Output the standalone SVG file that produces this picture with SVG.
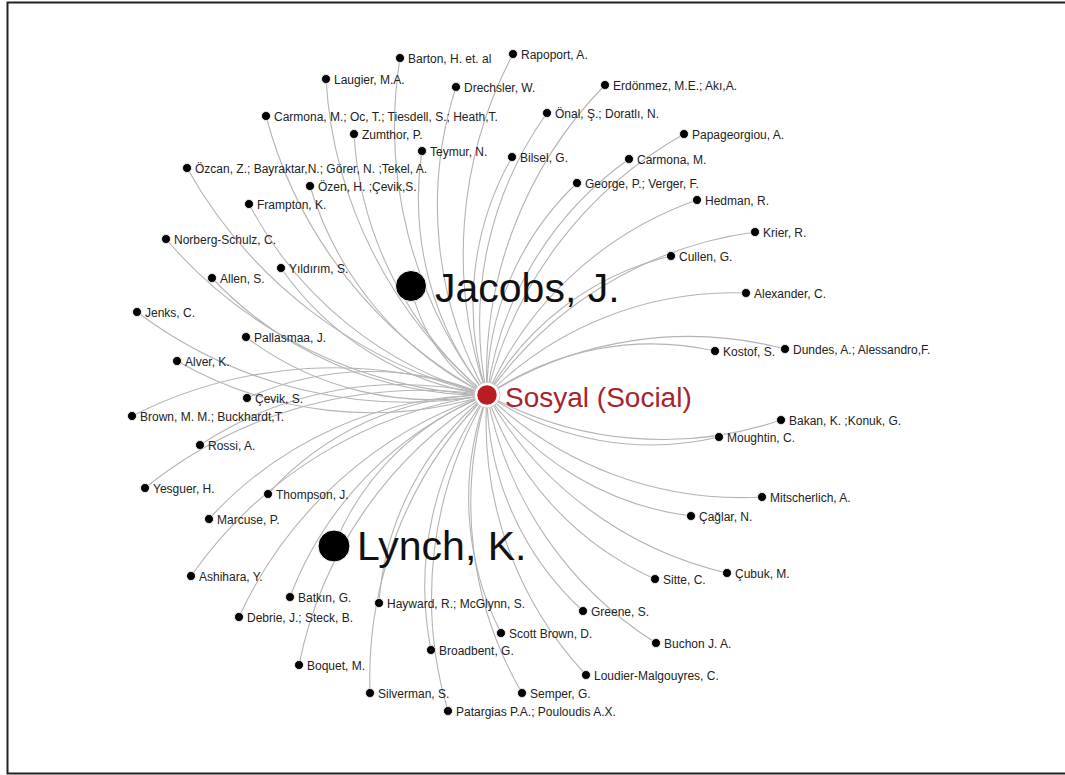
<svg xmlns="http://www.w3.org/2000/svg" width="1065" height="775" viewBox="0 0 1065 775">
<style>
.e{fill:none;stroke:#b4b4b4;stroke-width:1.1}
.n{fill:#000;stroke:#fff;stroke-width:0.8}
.l{font-family:"Liberation Sans",Arial,sans-serif;font-size:12px;fill:#222}
.big{font-family:"Liberation Sans",Arial,sans-serif;font-size:41px;fill:#111}
.hub{font-family:"Liberation Sans",Arial,sans-serif;font-size:28px;fill:#a8232b}
</style>
<rect width="1065" height="775" fill="#fff"/>
<path d="M1065,2.5 H7.5 V773.5 H1065" fill="none" stroke="#222" stroke-width="2"/>
<g id="edges">
<path class="e" d="M487,395 A435,435 0 0,1 400,58"/>
<path class="e" d="M487,395 A428,428 0 0,1 513,54"/>
<path class="e" d="M487,395 A443,443 0 0,1 326,79"/>
<path class="e" d="M487,395 A387,387 0 0,1 456,87"/>
<path class="e" d="M487,395 A415,415 0 0,1 605,85"/>
<path class="e" d="M487,395 A445,445 0 0,1 266,116"/>
<path class="e" d="M487,395 A360,360 0 0,1 547,113"/>
<path class="e" d="M487,395 A366,366 0 0,1 354,134"/>
<path class="e" d="M487,395 A409,409 0 0,1 684,134"/>
<path class="e" d="M487,395 A316,316 0 0,1 422,151"/>
<path class="e" d="M487,395 A299,299 0 0,1 512,157"/>
<path class="e" d="M487,395 A344,344 0 0,1 629,159"/>
<path class="e" d="M487,395 A470,470 0 0,1 187,168"/>
<path class="e" d="M487,395 A342,342 0 0,1 310,186"/>
<path class="e" d="M487,395 A288,288 0 0,1 577,183"/>
<path class="e" d="M487,395 A358,358 0 0,1 697,200"/>
<path class="e" d="M487,395 A381,381 0 0,1 249,204"/>
<path class="e" d="M487,395 A392,392 0 0,1 755,232"/>
<path class="e" d="M487,395 A446,446 0 0,1 166,239"/>
<path class="e" d="M487,395 A288,288 0 0,1 671,256"/>
<path class="e" d="M487,395 A302,302 0 0,1 281,268"/>
<path class="e" d="M487,395 A374,374 0 0,1 212,278"/>
<path class="e" d="M487,395 A348,348 0 0,1 746,293"/>
<path class="e" d="M487,395 A450,450 0 0,1 137,312"/>
<path class="e" d="M487,395 A310,310 0 0,1 246,337"/>
<path class="e" d="M487,395 A390,390 0 0,1 177,361"/>
<path class="e" d="M487,395 A290,290 0 0,1 715,351"/>
<path class="e" d="M487,395 A377,377 0 0,1 785,349"/>
<path class="e" d="M487,395 A300,300 0 0,0 247,398"/>
<path class="e" d="M487,395 A445,445 0 0,0 132,416"/>
<path class="e" d="M487,395 A369,369 0 0,0 781,420"/>
<path class="e" d="M487,395 A295,295 0 0,0 719,437"/>
<path class="e" d="M487,395 A364,364 0 0,0 200,445"/>
<path class="e" d="M487,395 A443,443 0 0,0 145,488"/>
<path class="e" d="M487,395 A300,300 0 0,0 268,494"/>
<path class="e" d="M487,395 A367,367 0 0,0 762,497"/>
<path class="e" d="M487,395 A297,297 0 0,0 691,516"/>
<path class="e" d="M487,395 A380,380 0 0,0 209,519"/>
<path class="e" d="M487,395 A434,434 0 0,0 191,576"/>
<path class="e" d="M487,395 A311,311 0 0,0 655,579"/>
<path class="e" d="M487,395 A374,374 0 0,0 727,573"/>
<path class="e" d="M487,395 A353,353 0 0,0 290,597"/>
<path class="e" d="M487,395 A293,293 0 0,0 379,603"/>
<path class="e" d="M487,395 A416,416 0 0,0 239,617"/>
<path class="e" d="M487,395 A295,295 0 0,0 583,611"/>
<path class="e" d="M487,395 A298,298 0 0,0 501,633"/>
<path class="e" d="M487,395 A375,375 0 0,0 656,643"/>
<path class="e" d="M487,395 A326,326 0 0,0 431,650"/>
<path class="e" d="M487,395 A411,411 0 0,0 299,665"/>
<path class="e" d="M487,395 A371,371 0 0,0 586,675"/>
<path class="e" d="M487,395 A400,400 0 0,0 370,693"/>
<path class="e" d="M487,395 A375,375 0 0,0 522,693"/>
<path class="e" d="M487,395 A398,398 0 0,0 448,711"/>
<path class="e" d="M487,395 A166,166 0 0,1 411,286"/>
<path class="e" d="M487,395 A269,269 0 0,0 334,546"/>
</g>
<g id="n-barton"><circle class="n" cx="400" cy="58" r="4.5"/><text class="l" x="408" y="63">Barton, H. et. al</text></g>
<g id="n-rapoport"><circle class="n" cx="513" cy="54" r="4.5"/><text class="l" x="521" y="59">Rapoport, A.</text></g>
<g id="n-laugier"><circle class="n" cx="326" cy="79" r="4.5"/><text class="l" x="334" y="84">Laugier, M.A.</text></g>
<g id="n-drechsler"><circle class="n" cx="456" cy="87" r="4.5"/><text class="l" x="464" y="92">Drechsler, W.</text></g>
<g id="n-erdonmez"><circle class="n" cx="605" cy="85" r="4.5"/><text class="l" x="613" y="90">Erdönmez, M.E.; Akı,A.</text></g>
<g id="n-carmona-oc"><circle class="n" cx="266" cy="116" r="4.5"/><text class="l" x="274" y="121">Carmona, M.; Oc, T.; Tiesdell, S.; Heath,T.</text></g>
<g id="n-onal"><circle class="n" cx="547" cy="113" r="4.5"/><text class="l" x="555" y="118">Önal, Ş.; Doratlı, N.</text></g>
<g id="n-zumthor"><circle class="n" cx="354" cy="134" r="4.5"/><text class="l" x="362" y="139">Zumthor, P.</text></g>
<g id="n-papageorgiou"><circle class="n" cx="684" cy="134" r="4.5"/><text class="l" x="692" y="139">Papageorgiou, A.</text></g>
<g id="n-teymur"><circle class="n" cx="422" cy="151" r="4.5"/><text class="l" x="430" y="156">Teymur, N.</text></g>
<g id="n-bilsel"><circle class="n" cx="512" cy="157" r="4.5"/><text class="l" x="520" y="162">Bilsel, G.</text></g>
<g id="n-carmona"><circle class="n" cx="629" cy="159" r="4.5"/><text class="l" x="637" y="164">Carmona, M.</text></g>
<g id="n-ozcan"><circle class="n" cx="187" cy="168" r="4.5"/><text class="l" x="195" y="173">Özcan, Z.; Bayraktar,N.; Görer, N. ;Tekel, A.</text></g>
<g id="n-ozen"><circle class="n" cx="310" cy="186" r="4.5"/><text class="l" x="318" y="191">Özen, H. ;Çevik,S.</text></g>
<g id="n-george"><circle class="n" cx="577" cy="183" r="4.5"/><text class="l" x="585" y="188">George, P.; Verger, F.</text></g>
<g id="n-hedman"><circle class="n" cx="697" cy="200" r="4.5"/><text class="l" x="705" y="205">Hedman, R.</text></g>
<g id="n-frampton"><circle class="n" cx="249" cy="204" r="4.5"/><text class="l" x="257" y="209">Frampton, K.</text></g>
<g id="n-krier"><circle class="n" cx="755" cy="232" r="4.5"/><text class="l" x="763" y="237">Krier, R.</text></g>
<g id="n-norberg"><circle class="n" cx="166" cy="239" r="4.5"/><text class="l" x="174" y="244">Norberg-Schulz, C.</text></g>
<g id="n-cullen"><circle class="n" cx="671" cy="256" r="4.5"/><text class="l" x="679" y="261">Cullen, G.</text></g>
<g id="n-yildirim"><circle class="n" cx="281" cy="268" r="4.5"/><text class="l" x="289" y="273">Yıldırım, S.</text></g>
<g id="n-allen"><circle class="n" cx="212" cy="278" r="4.5"/><text class="l" x="220" y="283">Allen, S.</text></g>
<g id="n-alexander"><circle class="n" cx="746" cy="293" r="4.5"/><text class="l" x="754" y="298">Alexander, C.</text></g>
<g id="n-jenks"><circle class="n" cx="137" cy="312" r="4.5"/><text class="l" x="145" y="317">Jenks, C.</text></g>
<g id="n-pallasmaa"><circle class="n" cx="246" cy="337" r="4.5"/><text class="l" x="254" y="342">Pallasmaa, J.</text></g>
<g id="n-alver"><circle class="n" cx="177" cy="361" r="4.5"/><text class="l" x="185" y="366">Alver, K.</text></g>
<g id="n-kostof"><circle class="n" cx="715" cy="351" r="4.5"/><text class="l" x="723" y="356">Kostof, S.</text></g>
<g id="n-dundes"><circle class="n" cx="785" cy="349" r="4.5"/><text class="l" x="793" y="354">Dundes, A.; Alessandro,F.</text></g>
<g id="n-cevik"><circle class="n" cx="247" cy="398" r="4.5"/><text class="l" x="255" y="403">Çevik, S.</text></g>
<g id="n-brown"><circle class="n" cx="132" cy="416" r="4.5"/><text class="l" x="140" y="421">Brown, M. M.; Buckhardt,T.</text></g>
<g id="n-bakan"><circle class="n" cx="781" cy="420" r="4.5"/><text class="l" x="789" y="425">Bakan, K. ;Konuk, G.</text></g>
<g id="n-moughtin"><circle class="n" cx="719" cy="437" r="4.5"/><text class="l" x="727" y="442">Moughtin, C.</text></g>
<g id="n-rossi"><circle class="n" cx="200" cy="445" r="4.5"/><text class="l" x="208" y="450">Rossi, A.</text></g>
<g id="n-yesguer"><circle class="n" cx="145" cy="488" r="4.5"/><text class="l" x="153" y="493">Yesguer, H.</text></g>
<g id="n-thompson"><circle class="n" cx="268" cy="494" r="4.5"/><text class="l" x="276" y="499">Thompson, J.</text></g>
<g id="n-mitscherlich"><circle class="n" cx="762" cy="497" r="4.5"/><text class="l" x="770" y="502">Mitscherlich, A.</text></g>
<g id="n-caglar"><circle class="n" cx="691" cy="516" r="4.5"/><text class="l" x="699" y="521">Çağlar, N.</text></g>
<g id="n-marcuse"><circle class="n" cx="209" cy="519" r="4.5"/><text class="l" x="217" y="524">Marcuse, P.</text></g>
<g id="n-ashihara"><circle class="n" cx="191" cy="576" r="4.5"/><text class="l" x="199" y="581">Ashihara, Y.</text></g>
<g id="n-sitte"><circle class="n" cx="655" cy="579" r="4.5"/><text class="l" x="663" y="584">Sitte, C.</text></g>
<g id="n-cubuk"><circle class="n" cx="727" cy="573" r="4.5"/><text class="l" x="735" y="578">Çubuk, M.</text></g>
<g id="n-batkin"><circle class="n" cx="290" cy="597" r="4.5"/><text class="l" x="298" y="602">Batkın, G.</text></g>
<g id="n-hayward"><circle class="n" cx="379" cy="603" r="4.5"/><text class="l" x="387" y="608">Hayward, R.; McGlynn, S.</text></g>
<g id="n-debrie"><circle class="n" cx="239" cy="617" r="4.5"/><text class="l" x="247" y="622">Debrie, J.; Steck, B.</text></g>
<g id="n-greene"><circle class="n" cx="583" cy="611" r="4.5"/><text class="l" x="591" y="616">Greene, S.</text></g>
<g id="n-scottbrown"><circle class="n" cx="501" cy="633" r="4.5"/><text class="l" x="509" y="638">Scott Brown, D.</text></g>
<g id="n-buchon"><circle class="n" cx="656" cy="643" r="4.5"/><text class="l" x="664" y="648">Buchon J. A.</text></g>
<g id="n-broadbent"><circle class="n" cx="431" cy="650" r="4.5"/><text class="l" x="439" y="655">Broadbent, G.</text></g>
<g id="n-boquet"><circle class="n" cx="299" cy="665" r="4.5"/><text class="l" x="307" y="670">Boquet, M.</text></g>
<g id="n-loudier"><circle class="n" cx="586" cy="675" r="4.5"/><text class="l" x="594" y="680">Loudier-Malgouyres, C.</text></g>
<g id="n-silverman"><circle class="n" cx="370" cy="693" r="4.5"/><text class="l" x="378" y="698">Silverman, S.</text></g>
<g id="n-semper"><circle class="n" cx="522" cy="693" r="4.5"/><text class="l" x="530" y="698">Semper, G.</text></g>
<g id="n-patargias"><circle class="n" cx="448" cy="711" r="4.5"/><text class="l" x="456" y="716">Patargias P.A.; Pouloudis A.X.</text></g>
<g id="n-jacobs"><circle cx="411" cy="286" r="15.5" fill="#000" stroke="#fff" stroke-width="1"/><text class="big" x="435" y="302">Jacobs, J.</text></g>
<g id="n-lynch"><circle cx="334" cy="546" r="16" fill="#000" stroke="#fff" stroke-width="1"/><text class="big" x="357" y="560">Lynch, K.</text></g>
<g id="n-sosyal"><circle cx="487" cy="395" r="13" fill="none" stroke="#ccc" stroke-width="1"/><circle cx="487" cy="395" r="11" fill="#b81d24" stroke="#fff" stroke-width="2.5"/><text class="hub" x="505" y="407">Sosyal (Social)</text></g>
</svg>
